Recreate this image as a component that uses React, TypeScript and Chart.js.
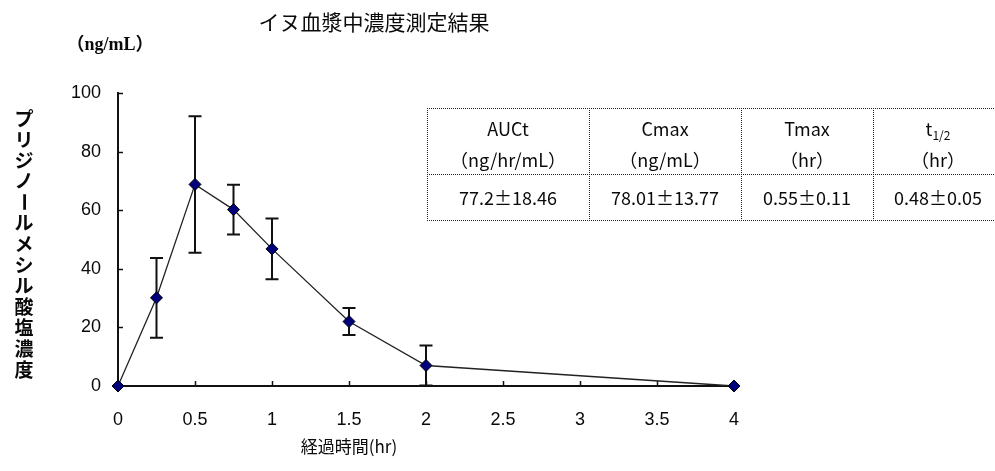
import React, { useEffect, useRef } from 'react';
import { Chart, registerables } from 'chart.js';

Chart.register(...registerables);

// ---- data ----
const chartTitle = 'イヌ血漿中濃度測定結果';
const yUnitLabel = '（ng/mL）';
const yAxisLabel = 'プリジノールメシル酸塩濃度';
const xAxisLabel = '経過時間(hr)';

const timePoints = [0, 0.25, 0.5, 0.75, 1, 1.5, 2, 4];
const meanConc = [0, 30.1, 68.8, 60.2, 46.8, 22.0, 7.0, 0];
const sdConc = [0, 13.6, 23.3, 8.5, 10.4, 4.6, 6.8, 0];

const xMin = 0;
const xMax = 4;
const xStep = 0.5;
const yMin = 0;
const yMax = 100;
const yStep = 20;

const tableParams = ['AUCt', 'Cmax', 'Tmax', 't1/2'];
const tableUnits = ['（ng/hr/mL）', '（ng/mL）', '（hr）', '（hr）'];
const tableValues = ['77.2±18.46', '78.01±13.77', '0.55±0.11', '0.48±0.05'];

const TEXT = '#0a0a0a';
const CJK = '"Noto Sans CJK JP", sans-serif';

const errorBarPlugin = {
  id: 'errorBars',
  beforeDatasetsDraw(chart: any) {
    const { ctx, scales } = chart;
    const xs = scales.x;
    const ys = scales.y;
    ctx.save();
    ctx.strokeStyle = '#111';
    ctx.lineWidth = 2;
    timePoints.forEach((t, i) => {
      const sd = sdConc[i];
      if (!sd) return;
      const px = xs.getPixelForValue(t);
      const top = ys.getPixelForValue(meanConc[i] + sd);
      const bot = ys.getPixelForValue(meanConc[i] - sd);
      const cap = 6.5;
      ctx.beginPath();
      ctx.moveTo(px, top);
      ctx.lineTo(px, bot);
      ctx.moveTo(px - cap, top);
      ctx.lineTo(px + cap, top);
      ctx.moveTo(px - cap, bot);
      ctx.lineTo(px + cap, bot);
      ctx.stroke();
    });
    // inward tick marks
    ctx.lineWidth = 1.5;
    const area = chart.chartArea;
    ys.ticks.forEach((tk: any) => {
      const py = Math.round(ys.getPixelForValue(tk.value)) + 0.5;
      ctx.beginPath();
      ctx.moveTo(area.left, py);
      ctx.lineTo(area.left + 5, py);
      ctx.stroke();
    });
    xs.ticks.forEach((tk: any) => {
      const px = Math.round(xs.getPixelForValue(tk.value)) + 0.5;
      ctx.beginPath();
      ctx.moveTo(px, area.bottom);
      ctx.lineTo(px, area.bottom - 5);
      ctx.stroke();
    });
    ctx.restore();
  },
};

const textPlugin = {
  id: 'texts',
  afterDraw(chart: any) {
    const ctx = chart.ctx as CanvasRenderingContext2D;
    ctx.save();
    ctx.fillStyle = TEXT;
    ctx.textAlign = 'center';
    ctx.textBaseline = 'middle';

    // title
    ctx.font = `21px ${CJK}`;
    ctx.fillText(chartTitle, 374, 22);

    // unit
    ctx.font = `bold 18px "Liberation Serif", "Noto Sans CJK JP", serif`;
    ctx.fillText(yUnitLabel, 110, 45);

    // x axis title
    ctx.font = `17px ${CJK}`;
    ctx.fillText(xAxisLabel, 349, 447);

    // vertical y label
    ctx.font = `bold 19px ${CJK}`;
    const chars = Array.from(yAxisLabel);
    chars.forEach((ch, i) => {
      const cy = 118.5 + i * 20.9;
      if (ch === 'ー') {
        ctx.save();
        ctx.translate(24, cy);
        ctx.rotate(Math.PI / 2);
        ctx.fillText(ch, 0, 0);
        ctx.restore();
      } else {
        ctx.fillText(ch, 24, cy);
      }
    });

    // table
    const cols = [427, 589, 741, 873, 1003];
    const rows = [108, 174, 220];
    ctx.strokeStyle = '#222';
    ctx.lineWidth = 1;
    ctx.setLineDash([1, 1]);
    ctx.beginPath();
    rows.forEach((ry) => {
      ctx.moveTo(cols[0], ry + 0.5);
      ctx.lineTo(cols[cols.length - 1], ry + 0.5);
    });
    cols.forEach((cx) => {
      ctx.moveTo(cx + 0.5, rows[0]);
      ctx.lineTo(cx + 0.5, rows[rows.length - 1]);
    });
    ctx.stroke();
    ctx.setLineDash([]);

    const TF = `18px ${CJK}`;
    const TS = `12px ${CJK}`;
    ctx.font = TF;
    tableParams.forEach((p, i) => {
      const cx = (cols[i] + cols[i + 1]) / 2;
      if (p.includes('1/2')) {
        const base = p.split('1')[0];
        ctx.font = TF;
        const w1 = ctx.measureText(base).width;
        ctx.font = TS;
        const w2 = ctx.measureText('1/2').width;
        const sx = cx - (w1 + w2) / 2;
        ctx.textAlign = 'left';
        ctx.font = TF;
        ctx.fillText(base, sx, 129);
        ctx.font = TS;
        ctx.fillText('1/2', sx + w1, 135);
        ctx.textAlign = 'center';
        ctx.font = TF;
      } else {
        ctx.fillText(p, cx, 129);
      }
      ctx.fillText(tableUnits[i], cx, 160);
      ctx.fillText(tableValues[i], cx, 198);
    });

    ctx.restore();
  },
};

export default function App() {
  const ref = useRef<HTMLCanvasElement | null>(null);

  useEffect(() => {
    if (!ref.current) return;
    const chart = new Chart(ref.current, {
      type: 'line',
      data: {
        datasets: [
          {
            data: timePoints.map((t, i) => ({ x: t, y: meanConc[i] })),
            borderColor: '#222',
            borderWidth: 1.3,
            pointStyle: 'rectRot',
            pointRadius: 6,
            pointBackgroundColor: '#00007a',
            pointBorderColor: '#000',
            pointBorderWidth: 1,
            tension: 0,
            clip: false as any,
          },
        ],
      },
      options: {
        animation: false,
        responsive: false,
        devicePixelRatio: 1,
        layout: { padding: { left: 0, top: 93, right: 261, bottom: 0 } },
        plugins: {
          legend: { display: false },
          tooltip: { enabled: false },
          title: { display: false },
        },
        scales: {
          x: {
            type: 'linear',
            min: xMin,
            max: xMax,
            grid: { display: false, drawTicks: false },
            border: { display: true, color: '#111', width: 2 },
            ticks: {
              stepSize: xStep,
              padding: 23,
              color: TEXT,
              font: { family: 'Liberation Sans', size: 18 },
              maxRotation: 0,
              callback: (v: any) => String(Number(v)),
            },
            afterFit(scale: any) {
              scale.height = 85;
            },
          },
          y: {
            type: 'linear',
            min: yMin,
            max: yMax,
            grid: { display: false, drawTicks: false },
            border: { display: true, color: '#111', width: 2 },
            ticks: {
              stepSize: yStep,
              padding: 17,
              color: TEXT,
              font: { family: 'Liberation Sans', size: 18 },
            },
            afterFit(scale: any) {
              scale.width = 118;
            },
          },
        },
      },
      plugins: [errorBarPlugin, textPlugin],
    });
    return () => chart.destroy();
  }, []);

  return (
    <div style={{ position: 'absolute', left: 0, top: 0, width: 995, height: 471, background: '#fff' }}>
      <canvas ref={ref} width={995} height={471} style={{ display: 'block' }} />
    </div>
  );
}
